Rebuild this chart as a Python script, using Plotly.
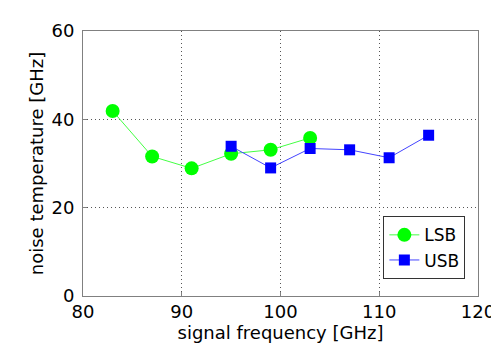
import plotly.graph_objects as go

lsb_x = [83, 87, 91, 95, 99, 103]
lsb_y = [41.9, 31.6, 28.9, 32.2, 33.1, 35.8]
usb_x = [95, 99, 103, 107, 111, 115]
usb_y = [33.9, 29.0, 33.4, 33.1, 31.3, 36.4]
x_ticks = [80, 90, 100, 110, 120]
y_ticks = [0, 20, 40, 60]

fig = go.Figure()
fig.add_trace(go.Scatter(x=lsb_x, y=lsb_y, name="LSB", mode="lines+markers",
                         line=dict(color="#44ff44", width=1),
                         marker=dict(symbol="circle", size=14, color="#00ff00")))
fig.add_trace(go.Scatter(x=usb_x, y=usb_y, name="USB", mode="lines+markers",
                         line=dict(color="#4444ff", width=1),
                         marker=dict(symbol="square", size=11, color="#0000ff")))

axis_common = dict(showline=True, linecolor="#808080", linewidth=1, mirror=True,
                   showgrid=True, gridcolor="#555555", griddash="1px,3px", gridwidth=1,
                   ticks="inside", ticklen=4, tickcolor="#808080", zeroline=False,
                   tickfont=dict(size=18, color="black"))
fig.update_xaxes(range=[80, 120], tickvals=x_ticks, ticklabelstandoff=-1,
                 title=dict(text="signal frequency [GHz]", font=dict(size=18), standoff=2),
                 **axis_common)
fig.update_yaxes(range=[0, 60], tickvals=y_ticks, ticklabelstandoff=4,
                 title=dict(text="noise temperature [GHz]", font=dict(size=18), standoff=3),
                 **axis_common)
fig.update_layout(width=499, height=347, margin=dict(l=75, r=23, t=20, b=59),
                  plot_bgcolor="white", paper_bgcolor="white",
                  font=dict(family="DejaVu Sans", size=18, color="black"),
                  legend=dict(x=0.968, y=0.063, xanchor="right", yanchor="bottom",
                              bgcolor="white", bordercolor="#333333", borderwidth=1,
                              font=dict(size=17), tracegroupgap=0, itemwidth=30))
fig.write_html("out.html")
